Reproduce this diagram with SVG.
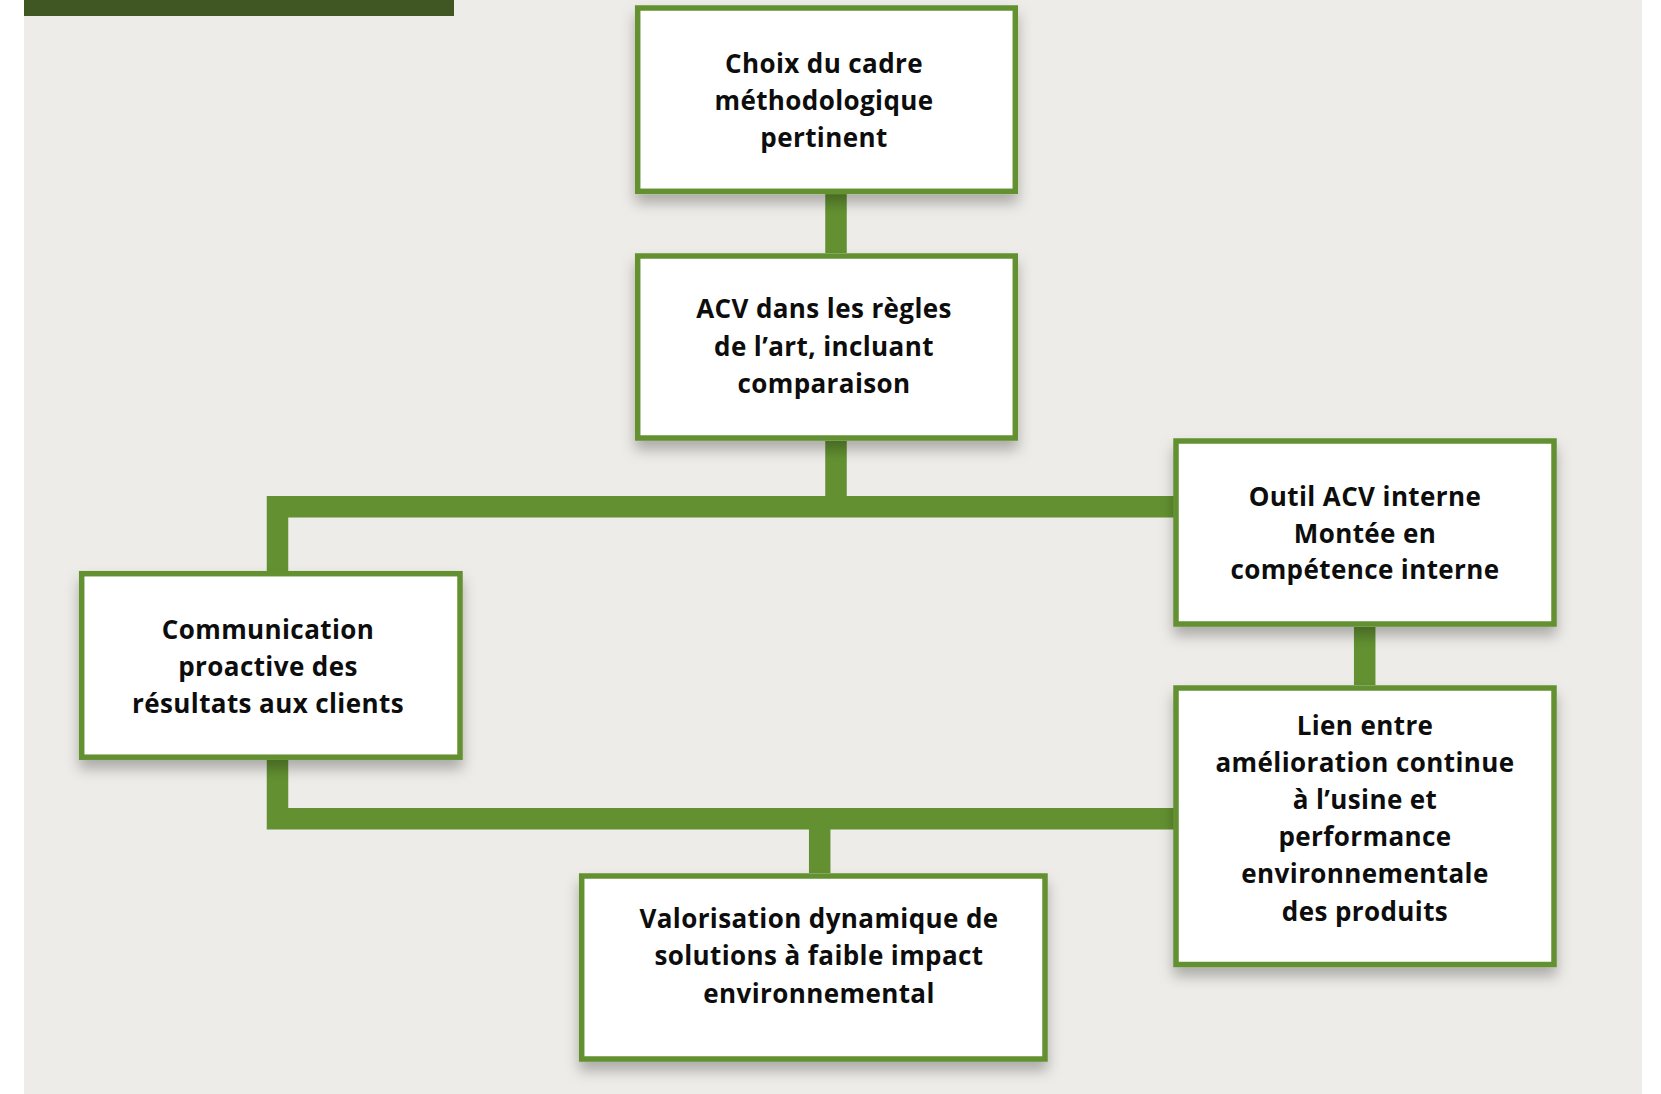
<svg xmlns="http://www.w3.org/2000/svg" width="1661" height="1094" viewBox="0 0 1661 1094">
<defs>
<filter id="sh" x="-10%" y="-10%" width="120%" height="130%">
<feDropShadow dx="0" dy="9" stdDeviation="7" flood-color="#000" flood-opacity="0.28"/>
</filter>
<style>
.box{fill:#fff;stroke:#639131;stroke-width:5.5;filter:url(#sh)}
.con{fill:none;stroke:#639131;stroke-width:21.5;stroke-linejoin:miter;stroke-linecap:butt}
.t{font-family:"Open Sans","Liberation Sans",sans-serif;font-weight:700;font-size:26px;letter-spacing:0.4px;fill:#0d0d0d;text-anchor:middle}
</style>
</defs>
<rect x="0" y="0" width="1661" height="1094" fill="#fff"/>
<rect x="24" y="0" width="1618" height="1094" fill="#EDECE8"/>
<rect x="24" y="0" width="430" height="16" fill="#405724"/>
<g id="connectors">
<path class="con" d="M836 194V253"/>
<path class="con" d="M836 441V507"/>
<path class="con" d="M277.5 571V506.7H1175"/>
<path class="con" d="M1364.7 627V685"/>
<path class="con" d="M277.5 760V818.7H1175"/>
<path class="con" d="M819.7 818V873"/>
</g>
<g id="n1">
<rect class="box" x="637.7" y="8" width="377.6" height="183.3"/>
<text class="t" x="824" y="73">Choix du cadre</text>
<text class="t" x="824" y="110">méthodologique</text>
<text class="t" x="824" y="147">pertinent</text>
</g>
<g id="n2">
<rect class="box" x="637.7" y="256" width="377.6" height="182"/>
<text class="t" x="824" y="318">ACV dans les règles</text>
<text class="t" x="824" y="355.5">de l’art, incluant</text>
<text class="t" x="824" y="393">comparaison</text>
</g>
<g id="n3">
<rect class="box" x="1176" y="441" width="378" height="183"/>
<text class="t" x="1365" y="506">Outil ACV interne</text>
<text class="t" x="1365" y="542.5">Montée en</text>
<text class="t" x="1365" y="579">compétence interne</text>
</g>
<g id="n4">
<rect class="box" x="1176" y="688" width="378" height="276.5"/>
<text class="t" x="1365" y="735">Lien entre</text>
<text class="t" x="1365" y="772">amélioration continue</text>
<text class="t" x="1365" y="809">à l’usine et</text>
<text class="t" x="1365" y="846">performance</text>
<text class="t" x="1365" y="883">environnementale</text>
<text class="t" x="1365" y="920.5">des produits</text>
</g>
<g id="n5">
<rect class="box" x="81.7" y="573.7" width="378.3" height="183.5"/>
<text class="t" x="268" y="638.5">Communication</text>
<text class="t" x="268" y="676">proactive des</text>
<text class="t" x="268" y="713">résultats aux clients</text>
</g>
<g id="n6">
<rect class="box" x="581.7" y="876" width="463.3" height="183"/>
<text class="t" x="819" y="927.5">Valorisation dynamique de</text>
<text class="t" x="819" y="965">solutions à faible impact</text>
<text class="t" x="819" y="1002.5">environnemental</text>
</g>
</svg>
